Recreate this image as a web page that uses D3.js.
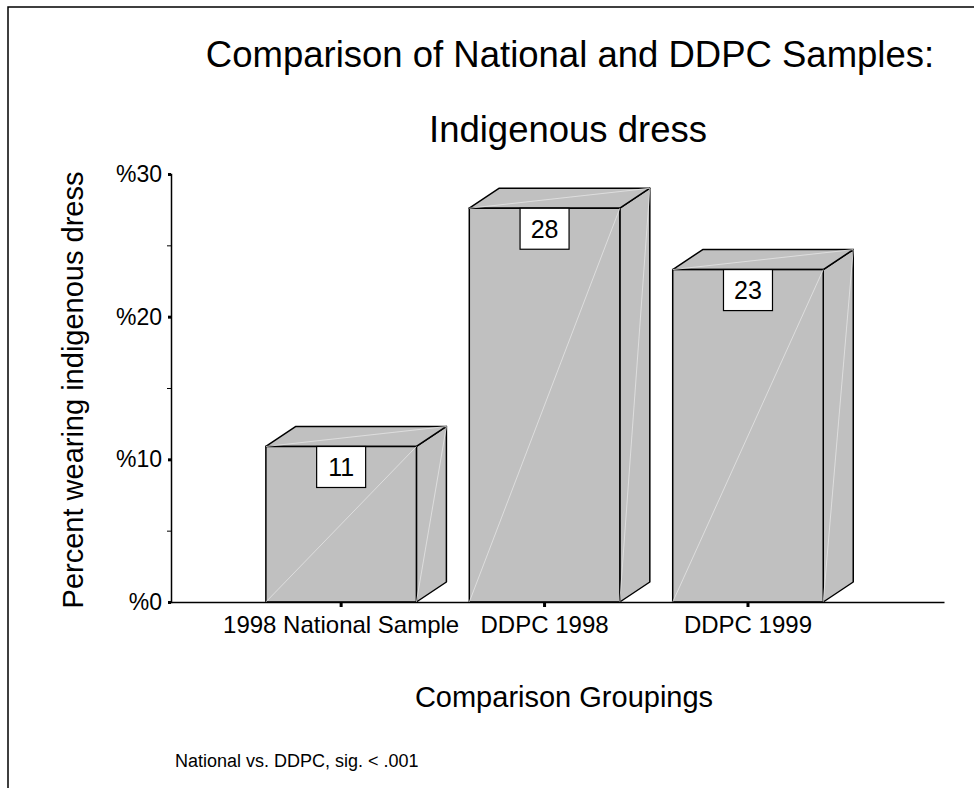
<!DOCTYPE html>
<html>
<head>
<meta charset="utf-8">
<script src="https://cdn.jsdelivr.net/npm/d3@7"></script>
<style>
  body { margin: 0; background: #fff; }
  svg { display: block; font-family: "Liberation Sans", Arial, sans-serif; }
  .axis path, .axis line { stroke: #000; }
  .axis text { fill: #000; }
</style>
</head>
<body>
<div id="chart"></div>
<script>
// data
var groups = ["1998 National Sample", "DDPC 1998", "DDPC 1999"]
var percents = [10.9, 27.6, 23.3]
var majorTicks = [0, 10, 20, 30]
var minorTicks = [5, 15, 25]

var width = 974, height = 788
var plot = {left: 171, right: 944, top: 174, bottom: 602}
var depth = {dx: 30, dy: -20}   // 3d offset of the bars

var svg = d3.select("#chart")
    .append("svg")
    .attr("width", width)
    .attr("height", height)

// frame (only top and left edges show)
svg.append("path")
    .attr("d", "M8,788 L8,7 L974,7")
    .attr("fill", "none")
    .attr("stroke", "#000")
    .attr("stroke-width", 1.5)

var x = d3.scaleBand()
    .domain(groups)
    .range([plot.left, plot.right])
    .paddingInner(0.26)
    .paddingOuter(0.53)
    .align(0.44)

var y = d3.scaleLinear()
    .domain([0, 30])
    .range([plot.bottom, plot.top])

// bars: front, side and top faces
var bars = svg.selectAll(".bar")
    .data(groups.map(function(g, i) { return {name: g, value: percents[i]} }))
    .enter()
    .append("g")
    .attr("class", "bar")

function facePath (pts) {
    return "M" + pts.map(function(p) { return p.join(",") }).join("L") + "Z"
}

bars.append("path")
    .attr("d", function(d) {
        var x1 = x(d.name) + x.bandwidth(), y0 = y(0), y1 = y(d.value)
        return facePath([[x1, y0], [x1 + depth.dx, y0 + depth.dy], [x1 + depth.dx, y1 + depth.dy], [x1, y1]]) })
    .attr("fill", "#c0c0c0")
    .attr("stroke", "#000")
    .attr("stroke-width", 1.5)
    .attr("stroke-linejoin", "round")

bars.append("path")
    .attr("d", function(d) {
        var x0 = x(d.name), x1 = x0 + x.bandwidth(), y1 = y(d.value)
        return facePath([[x0, y1], [x0 + depth.dx, y1 + depth.dy], [x1 + depth.dx, y1 + depth.dy], [x1, y1]]) })
    .attr("fill", "#c0c0c0")
    .attr("stroke", "#000")
    .attr("stroke-width", 1.5)
    .attr("stroke-linejoin", "round")

bars.append("rect")
    .attr("x", function(d) { return x(d.name) })
    .attr("y", function(d) { return y(d.value) })
    .attr("width", x.bandwidth())
    .attr("height", function(d) { return y(0) - y(d.value) })
    .attr("fill", "#c0c0c0")
    .attr("stroke", "#000")
    .attr("stroke-width", 1.5)

// faint highlight diagonals
bars.append("path")
    .attr("d", function(d) {
        var x0 = x(d.name), x1 = x0 + x.bandwidth(), y0 = y(0), y1 = y(d.value)
        return "M" + x0 + "," + y0 + "L" + x1 + "," + y1 +
            "M" + x1 + "," + y0 + "L" + (x1 + depth.dx) + "," + (y1 + depth.dy) +
            "M" + x0 + "," + y1 + "L" + (x1 + depth.dx) + "," + (y1 + depth.dy) })
    .attr("fill", "none")
    .attr("stroke", "#e4e4e4")
    .attr("stroke-width", 0.8)

// value boxes
var box = {w: 49, h: 41}
bars.append("rect")
    .attr("x", function(d) { return x(d.name) + x.bandwidth() / 2 - box.w / 2 })
    .attr("y", function(d) { return y(d.value) })
    .attr("width", box.w)
    .attr("height", box.h)
    .attr("fill", "#fff")
    .attr("stroke", "#000")
    .attr("stroke-width", 1.2)

bars.append("text")
    .attr("x", function(d) { return x(d.name) + x.bandwidth() / 2 })
    .attr("y", function(d) { return y(d.value) + box.h / 2 })
    .attr("dy", "0.36em")
    .attr("text-anchor", "middle")
    .style("font-size", "25px")
    .text(function(d) { return d3.format(".0f")(d.value) })

// axes
var xaxis = svg.append("g")
    .attr("class", "axis")
    .attr("transform", "translate(0," + plot.bottom + ")")
    .call(d3.axisBottom(x).tickSize(5).tickSizeOuter(0).tickPadding(9))
xaxis.select(".domain").attr("stroke-width", 1.5)
xaxis.selectAll(".tick line").attr("stroke-width", 3)
xaxis.selectAll("text").style("font-size", "24px")

var yminor = svg.append("g")
    .attr("class", "axis")
    .attr("transform", "translate(" + plot.left + ",0)")
    .call(d3.axisLeft(y).tickValues(minorTicks).tickSize(4).tickFormat(""))
yminor.select(".domain").remove()

var yaxis = svg.append("g")
    .attr("class", "axis")
    .attr("transform", "translate(" + plot.left + ",0)")
    .call(d3.axisLeft(y).tickValues(majorTicks).tickSizeOuter(0).tickSize(3).tickPadding(6)
        .tickFormat(function(d) { return "%" + d }))
yaxis.select(".domain").attr("stroke-width", 1.5)
yaxis.selectAll(".tick line").attr("stroke-width", 3)
yaxis.selectAll("text").style("font-size", "23px")

// titles
svg.append("text")
    .attr("x", 570).attr("y", 67)
    .attr("text-anchor", "middle")
    .style("font-size", "36.5px")
    .text("Comparison of National and DDPC Samples:")

svg.append("text")
    .attr("x", 568).attr("y", 142)
    .attr("text-anchor", "middle")
    .style("font-size", "36.5px")
    .text("Indigenous dress")

svg.append("text")
    .attr("transform", "translate(83," + ((plot.top + plot.bottom) / 2 + 2) + ") rotate(-90)")
    .attr("text-anchor", "middle")
    .style("font-size", "29px")
    .text("Percent wearing indigenous dress")

svg.append("text")
    .attr("x", 564).attr("y", 707)
    .attr("text-anchor", "middle")
    .style("font-size", "29px")
    .text("Comparison Groupings")

svg.append("text")
    .attr("x", 175).attr("y", 767)
    .style("font-size", "18px")
    .text("National vs. DDPC, sig. < .001")
</script>
</body>
</html>
